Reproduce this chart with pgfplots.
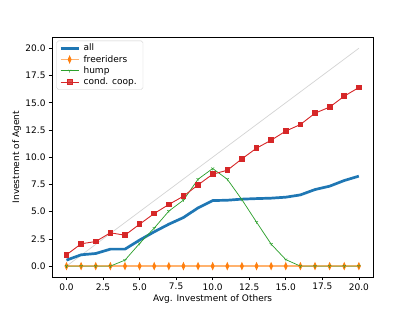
\documentclass[border=0pt]{standalone}
\usepackage{pgfplots}
\pgfplotsset{compat=1.18}
\usepackage{fontspec}
\setmainfont{DejaVu Sans}
\usetikzlibrary{plotmarks}
\definecolor{C0}{HTML}{1F77B4}
\definecolor{C1}{HTML}{FF7F0E}
\definecolor{C2}{HTML}{2CA02C}
\definecolor{C3}{HTML}{D62728}
\begin{document}
\begin{tikzpicture}
\path[use as bounding box] (0,0) rectangle (460.8pt,345.6pt);
\begin{axis}[
  at={(57.6pt,38.0pt)}, anchor=south west,
  scale only axis, width=357.1pt, height=266.1pt,
  xmin=-1, xmax=21, ymin=-1, ymax=21,
  xtick={0,2.5,...,20}, ytick={0,2.5,...,20},
  /pgf/number format/assume math mode=true,
  /pgf/number format/fixed, /pgf/number format/fixed zerofill, /pgf/number format/precision=1,
  tick label style={font=\fontsize{10}{12}\selectfont},
  label style={font=\fontsize{10}{12}\selectfont},
  xlabel={Avg. Investment of Others}, ylabel={Investment of Agent},
  xlabel style={yshift=2pt}, ylabel style={yshift=-2pt},
  tick align=outside, tick pos=left, major tick length=3.5pt,
  axis line style={line width=0.8pt}, every tick/.style={line width=0.8pt, black},
  legend style={font=\fontsize{10}{12}\selectfont, draw=black!20, rounded corners=2pt, fill=white, fill opacity=0.8, text opacity=1, at={(0.014,0.986)}, anchor=north west, inner xsep=3pt, inner ysep=3pt, row sep=2.5pt,
    nodes={inner xsep=4pt, inner ysep=0.5pt}},
  legend cell align=left,
  legend image code/.code={\draw[#1] (0pt,0pt) -- (20pt,0pt) plot coordinates {(10pt,0pt)};},
]
\addplot[black!17, line width=0.8pt, forget plot] coordinates {(0,0)(20,20)};
\addplot[C0, line width=3pt, line join=round] coordinates {
(0,0.55)(1,1.04)(2,1.16)(3,1.56)(4,1.56)(5,2.39)(6,3.15)(7,3.85)(8,4.46)(9,5.35)(10,6.02)
(11,6.05)(12,6.15)(13,6.2)(14,6.24)(15,6.33)(16,6.54)(17,7.03)(18,7.34)(19,7.86)(20,8.26)};
\addlegendentry{all}
\addplot[C1!60, line width=1.5pt, mark=diamond*, mark options={C1, fill=C1, xscale=0.6, scale=1.5}] coordinates {
(0,0)(1,0)(2,0)(3,0)(4,0)(5,0)(6,0)(7,0)(8,0)(9,0)(10,0)(11,0)(12,0)(13,0)(14,0)(15,0)(16,0)(17,0)(18,0)(19,0)(20,0)};
\addlegendentry{freeriders}
\addplot[C2, line width=0.8pt, mark=Mercedes star flipped, mark size=2pt, mark options={line width=0.6pt}] coordinates {
(0,0)(1,0)(2,0)(3,0)(4,0.55)(5,2.08)(6,3.49)(7,5.05)(8,6.06)(9,7.98)(10,8.96)
(11,7.98)(12,6.1)(13,4.04)(14,2.02)(15,0.6)(16,0)(17,0)(18,0)(19,0)(20,0)};
\addlegendentry{hump}
\addplot[C3, line width=1pt, mark=square*, mark size=2.6pt, mark options={fill=C3}] coordinates {
(0,1.04)(1,2.05)(2,2.26)(3,3.06)(4,2.84)(5,3.85)(6,4.83)(7,5.66)(8,6.42)(9,7.46)(10,8.44)
(11,8.8)(12,9.85)(13,10.83)(14,11.56)(15,12.4)(16,13.0)(17,14.04)(18,14.6)(19,15.6)(20,16.4)};
\addlegendentry{cond. coop.}
\end{axis}
\end{tikzpicture}
\end{document}
